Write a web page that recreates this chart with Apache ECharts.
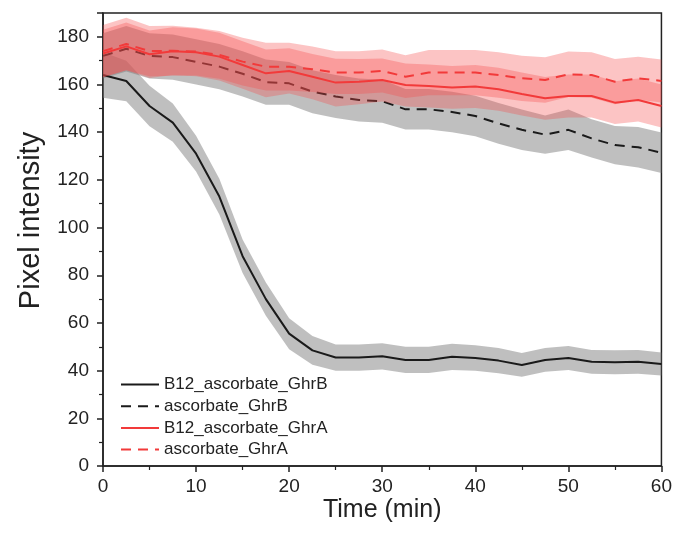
<!DOCTYPE html>
<html>
<head>
<meta charset="utf-8">
<script src="https://cdn.jsdelivr.net/npm/echarts@6/dist/echarts.min.js"></script>
<style>html,body{margin:0;padding:0;background:#fff;}#c{width:675px;height:534px;}</style>
</head>
<body>
<div id="c"></div>
<script>
const time = [0,2.5,5,7.5,10,12.5,15,17.5,20,22.5,25,27.5,30,32.5,35,37.5,40,42.5,45,47.5,50,52.5,55,57.5,60];
const seriesNames = ['B12_ascorbate_GhrB','ascorbate_GhrB','B12_ascorbate_GhrA','ascorbate_GhrA'];
const b12GhrB = [164,161.5,151,144,131,113,88,70,55.5,48.5,45.5,45.5,46,44.5,44.5,45.8,45.3,44.2,42.4,44.5,45.3,43.7,43.5,43.7,42.8];
const b12GhrBsd = [9.5,8.5,8.5,8,7.5,7.5,7,7,6.5,6,5.5,5.5,5.5,5.5,5.5,5.5,5.3,5.3,5,5,5,5,5,5,4.8];
const ascGhrB = [172,175,172,171.5,169.5,167.5,164.5,161,160.5,157,155,153.5,153,149.6,149.6,148.5,146.8,143.7,141,139,141,137.4,134.6,133.7,131.4];
const ascGhrBsd = [9.5,9.5,9.5,9.5,9.5,9.5,9.5,9.5,9,9,9,9,9,8.5,8.5,8.5,8.5,8.5,8.5,8,8.5,8,8,8.5,8.5];
const b12GhrA = [173,176,172.7,174,173.5,171.7,168.2,164.7,165.7,163.3,160.8,161.2,161.9,159.8,159.4,158.8,159.2,158,156,154.2,155.2,155.2,152.4,153.5,151];
const b12GhrAsd = [10,10,10,10,10,10,10,10,9.5,9.5,10,9.5,9,9,9,9,9,9,9,9,9,9,9,9,9];
const ascGhrA = [174,177,174,174.2,173.8,172.4,169.6,167.5,167.5,166.4,165,165,165.7,163.3,165,165,165,164,162.6,161.9,164.3,164,161.2,162.6,161.5];
const ascGhrAsd = [11,11,10.5,10.5,10,10,10,10,10,9.5,9,9,9,9,9.5,9.5,9.5,9.5,9.5,9.5,9.5,9.5,9.5,9,9];

const FONT = 'Arial, "Liberation Sans", sans-serif';
const GREY = 'rgba(128,128,128,0.5)';
const PINK = 'rgba(245,75,75,0.33)';

function band(id, mean, sd, color, z) {
  const data = time.map((t, i) => [t, mean[i] - sd[i], mean[i] + sd[i]]);
  return {
    type:'custom', name:id, data:data, silent:true, z:z,
    encode:{x:0, y:[1,2]},
    renderItem:function(params, api){
      if (params.dataIndex !== 0) return null;
      const up = data.map(d => api.coord([d[0], d[2]]));
      const lo = data.map(d => api.coord([d[0], d[1]])).reverse();
      return {type:'polygon', shape:{points:up.concat(lo)}, style:{fill:color, stroke:null}};
    }
  };
}
function line(name, mean, color, dashed, z) {
  return {type:'line', name:name, z:z, data:time.map((t,i)=>[t, mean[i]]), symbol:'none',
    lineStyle:{color:color, width:2, type: dashed ? [10,7] : 'solid'}, itemStyle:{color:color}};
}

const chart = echarts.init(document.getElementById('c'), null, {renderer:'canvas'});
chart.setOption({
  animation:false,
  backgroundColor:'#fff',
  textStyle:{fontFamily:FONT},
  grid:{left:103, right:8, top:13, bottom:68, show:true, borderColor:'#222', borderWidth:1.5, backgroundColor:'transparent'},
  legend:{
    data:seriesNames, left:120, top:376, orient:'vertical', padding:0, itemWidth:38, itemHeight:14, itemGap:4.7,
    itemStyle:{opacity:0},
    textStyle:{fontSize:17, color:'#222', fontFamily:FONT}
  },
  xAxis:{
    type:'value', min:0, max:60, interval:10,
    name:'Time (min)', nameLocation:'middle', nameGap:32, nameMoveOverlap:false,
    nameTextStyle:{fontSize:25, color:'#222', fontFamily:FONT},
    axisLine:{lineStyle:{color:'#222', width:1.5}},
    axisTick:{inside:false, length:6, lineStyle:{color:'#222', width:1.5}},
    minorTick:{show:true, splitNumber:2, length:4, lineStyle:{color:'#222', width:1.2}},
    axisLabel:{fontSize:19, color:'#222', margin:11, fontFamily:FONT},
    splitLine:{show:false}
  },
  yAxis:{
    type:'value', min:0, max:190, interval:20,
    name:'Pixel intensity', nameLocation:'middle', nameGap:58,
    nameTextStyle:{fontSize:29, color:'#222', fontFamily:FONT, padding:[0,0,0,38]},
    axisLine:{show:true, lineStyle:{color:'#222', width:1.5}},
    axisTick:{show:true, inside:false, length:6, lineStyle:{color:'#222', width:1.5}},
    minorTick:{show:true, splitNumber:2, length:4, lineStyle:{color:'#222', width:1.2}},
    axisLabel:{fontSize:19, color:'#222', margin:14, showMaxLabel:false, fontFamily:FONT},
    splitLine:{show:false}
  },
  series:[
    band('bB12B', b12GhrB, b12GhrBsd, GREY, 1),
    band('bAscB', ascGhrB, ascGhrBsd, GREY, 1),
    line(seriesNames[0], b12GhrB, '#1a1a1a', false, 2),
    line(seriesNames[1], ascGhrB, '#1a1a1a', true, 2),
    band('bB12A', b12GhrA, b12GhrAsd, PINK, 3),
    band('bAscA', ascGhrA, ascGhrAsd, PINK, 3),
    line(seriesNames[2], b12GhrA, '#f23a3a', false, 4),
    line(seriesNames[3], ascGhrA, '#f23a3a', true, 4)
  ]
});
</script>
</body>
</html>
